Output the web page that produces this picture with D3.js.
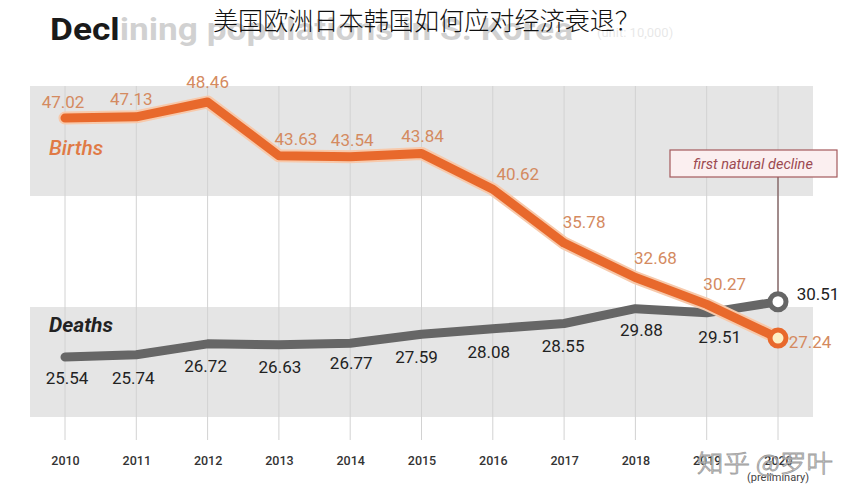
<!DOCTYPE html>
<html><head><meta charset="utf-8">
<script src="https://cdn.jsdelivr.net/npm/d3@7"></script>
<style>
body{margin:0;background:#fff;}
svg{display:block;font-family:Roboto,"Liberation Sans",sans-serif;}
</style></head>
<body>
<svg id="c" width="856" height="500"></svg>
<script>
const years = [2010,2011,2012,2013,2014,2015,2016,2017,2018,2019,2020];
const yearLabels = ["2010","2011","2012","2013","2014","2015","2016","2017","2018","2019","2020"];
const births = [47.02,47.13,48.46,43.63,43.54,43.84,40.62,35.78,32.68,30.27,27.24];
const deaths = [25.54,25.74,26.72,26.63,26.77,27.59,28.08,28.55,29.88,29.51,30.51];
const titleText = "Declining populations in S. Korea";
const unitText = "(unit: 10,000)";
const overlayText = "美国欧洲日本韩国如何应对经济衰退？";
const noteText = "first natural decline";
const watermark = "知乎 @罗叶";

const svg = d3.select("#c");
const x = d3.scaleLinear().domain([2010,2020]).range([65,778]);
const y = d3.scaleLinear().domain([25.54,48.46]).range([357,102]);
const orange = "#e8692c", grey = "#666666";

// bands
svg.append("rect").attr("x",30).attr("y",86).attr("width",783).attr("height",110).attr("fill","#e5e5e5");
svg.append("rect").attr("x",30).attr("y",307).attr("width",783).attr("height",110).attr("fill","#e5e5e5");

// gridlines
svg.append("g").selectAll("line").data(years).join("line")
  .attr("x1",d=>x(d)).attr("x2",d=>x(d)).attr("y1",86).attr("y2",440)
  .attr("stroke","#d2d2d2").attr("stroke-width",1);

// year axis labels
const axis = d3.axisBottom(x).tickValues(years).tickFormat((d,i)=>yearLabels[i]).tickSize(0);
const ag = svg.append("g").attr("transform","translate(0,465)").call(axis);
ag.select(".domain").remove();
ag.selectAll("text").attr("y",0).attr("dy",0).attr("font-size",12.5).attr("font-weight",500).attr("fill","#333")
  .attr("font-family","Roboto,sans-serif");
svg.append("text").attr("x",x(2020)).attr("y",481).attr("text-anchor","middle")
  .attr("font-size",11).attr("fill","#444").text("(preliminary)");

// lines
const line = d3.line().x((d,i)=>x(years[i])).y(d=>y(d));
svg.append("path").datum(deaths).attr("d",line).attr("fill","none")
  .attr("stroke",grey).attr("stroke-width",9).attr("stroke-linejoin","round").attr("stroke-linecap","round");
svg.append("path").datum(births).attr("d",line).attr("fill","none")
  .attr("stroke","#f7c9ab").attr("stroke-width",13).attr("stroke-linejoin","round").attr("stroke-linecap","round");
svg.append("path").datum(births).attr("d",line).attr("fill","none")
  .attr("stroke",orange).attr("stroke-width",9).attr("stroke-linejoin","round").attr("stroke-linecap","round");

// annotation
const last = years.length-1;
svg.append("line").attr("x1",x(2020)).attr("x2",x(2020)).attr("y1",177).attr("y2",y(deaths[last])-8)
  .attr("stroke","#8a6c6c").attr("stroke-width",1.5);
svg.append("rect").attr("x",670).attr("y",150).attr("width",167).attr("height",27)
  .attr("fill","#fbeff0").attr("stroke","#a4595c").attr("stroke-width",1.2);
svg.append("text").attr("x",753).attr("y",169).attr("text-anchor","middle")
  .attr("font-size",14.5).attr("font-style","italic").attr("fill","#9c4a50").text(noteText);

// end circles
svg.append("circle").attr("cx",x(2020)).attr("cy",y(deaths[last])).attr("r",8)
  .attr("fill","#fff").attr("stroke",grey).attr("stroke-width",5);
svg.append("circle").attr("cx",x(2020)).attr("cy",y(births[last])).attr("r",8)
  .attr("fill","#fdf0c4").attr("stroke",orange).attr("stroke-width",5);

// births labels
const bdx = [-2,-5,0,17,2,1,25,20,20,18,32];
const bdy = [-10,-12,-14,-11,-11,-11,-9,-15,-14,-14,10];
svg.append("g").selectAll("text").data(births).join("text")
  .attr("x",(d,i)=>x(years[i])+bdx[i]).attr("y",(d,i)=>y(d)+bdy[i])
  .attr("text-anchor","middle").attr("font-size",17).attr("fill","#d48a60")
  .text(d=>d.toFixed(2));

// deaths labels
const ddx = [2,-3,-2,1,1,-5,-4,-1,6,13,40];
const ddy = [27,29,28,28,26,29,29,28,27,30,-2];
svg.append("g").selectAll("text").data(deaths).join("text")
  .attr("x",(d,i)=>x(years[i])+ddx[i]).attr("y",(d,i)=>y(d)+ddy[i])
  .attr("text-anchor","middle").attr("font-size",17).attr("fill","#222")
  .text(d=>d.toFixed(2));

// series names
svg.append("text").attr("x",49).attr("y",155).attr("font-size",21).attr("font-style","italic")
  .attr("font-weight",500).attr("fill","#e07a45").text("Births");
svg.append("text").attr("x",49).attr("y",332).attr("font-size",21).attr("font-style","italic")
  .attr("font-weight",700).attr("fill","#222").text("Deaths");

// title
svg.append("text").attr("x",50).attr("y",40).attr("font-size",32).attr("font-weight",700)
  .attr("fill","#1a1a1a").attr("textLength",523).attr("lengthAdjust","spacingAndGlyphs").text(titleText);
svg.append("text").attr("x",597).attr("y",37).attr("font-size",13).attr("fill","#888").text(unitText);
svg.append("rect").attr("x",118).attr("y",0).attr("width",600).attr("height",52).attr("fill","#fff").attr("opacity",0.8);
svg.append("text").attr("x",213).attr("y",30).attr("font-size",25).attr("font-weight",300)
  .attr("font-family","'Noto Sans CJK SC',sans-serif").attr("fill","#111")
  .attr("textLength",427).attr("lengthAdjust","spacingAndGlyphs").text(overlayText);

// watermark
svg.append("text").attr("x",697).attr("y",472).attr("font-size",24)
  .attr("font-family","'Noto Sans CJK SC',sans-serif").attr("font-weight",300)
  .attr("fill","#fff").attr("fill-opacity",0.7).attr("stroke","#9a9a9a").attr("stroke-width",0.8)
  .attr("textLength",136).attr("lengthAdjust","spacingAndGlyphs").text(watermark);
</script>
</body></html>
